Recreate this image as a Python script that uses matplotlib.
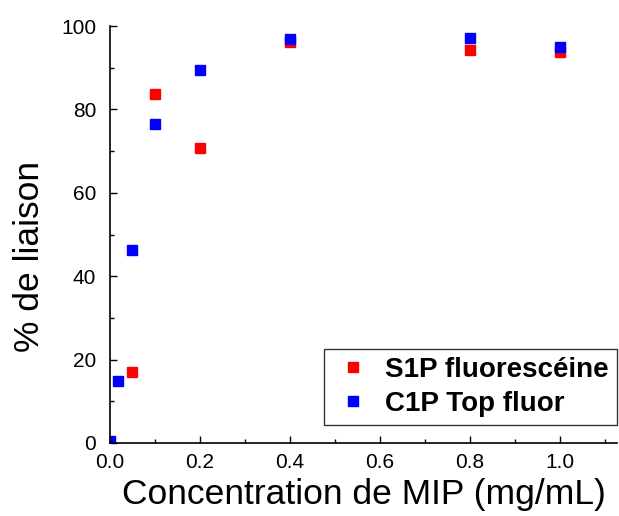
import matplotlib
matplotlib.use("Agg")
from matplotlib import pyplot as plt
from matplotlib.ticker import MultipleLocator

# S1P fluorescéine
s1p_conc = [0.05, 0.1, 0.2, 0.4, 0.8, 1.0]
s1p_liaison = [17.0, 83.6, 70.7, 96.2, 94.3, 93.8]

# C1P Top fluor
c1p_conc = [0.0, 0.018, 0.05, 0.1, 0.2, 0.4, 0.8, 1.0]
c1p_liaison = [0.4, 14.9, 46.3, 76.5, 89.5, 96.9, 97.2, 95.0]

plt.rcParams["font.family"] = ["Liberation Sans", "DejaVu Sans"]

fig = plt.figure(figsize=(6.19, 5.16), dpi=100)
ax = fig.add_axes([110 / 619, 73 / 516, 507 / 619, 417 / 516])

ax.plot(s1p_conc, s1p_liaison, "s", color="red", markersize=7, label="S1P fluorescéine")
ax.plot(c1p_conc, c1p_liaison, "s", color="blue", markersize=7, label="C1P Top fluor")

ax.set_xlim(0, 1.127)
ax.set_ylim(0, 100)
ax.xaxis.set_major_locator(MultipleLocator(0.2))
ax.xaxis.set_minor_locator(MultipleLocator(0.1))
ax.yaxis.set_major_locator(MultipleLocator(20))
ax.yaxis.set_minor_locator(MultipleLocator(10))
ax.xaxis.set_major_formatter(lambda v, p: f"{v:.1f}")
ax.yaxis.set_major_formatter(lambda v, p: f"{v:.0f}")

for side in ("top", "right"):
    ax.spines[side].set_visible(False)
for side in ("left", "bottom"):
    ax.spines[side].set_linewidth(1.2)

ax.tick_params(which="major", direction="in", length=5, width=1, labelsize=15)
ax.tick_params(which="minor", direction="in", length=3, width=1)
ax.tick_params(axis="y", which="major", pad=10)
ax.tick_params(axis="x", which="major", pad=7)

ax.set_xlabel("Concentration de MIP (mg/mL)", fontsize=25.5)
ax.set_ylabel("% de liaison", fontsize=25.5)
ax.xaxis.set_label_coords(0.5, -0.085)
ax.yaxis.set_label_coords(-0.126, 0.448)

leg = ax.legend(loc="lower right", bbox_to_anchor=(617 / 619, 91 / 516), bbox_transform=fig.transFigure,
                borderaxespad=0, prop={"weight": "bold", "size": 20},
                markerscale=0.95, frameon=True, fancybox=False, edgecolor="black",
                handlelength=1.45, handletextpad=0.44, borderpad=0.3, labelspacing=0.28)
leg.get_frame().set_linewidth(1.0)

fig.savefig("out.png", dpi=100)
